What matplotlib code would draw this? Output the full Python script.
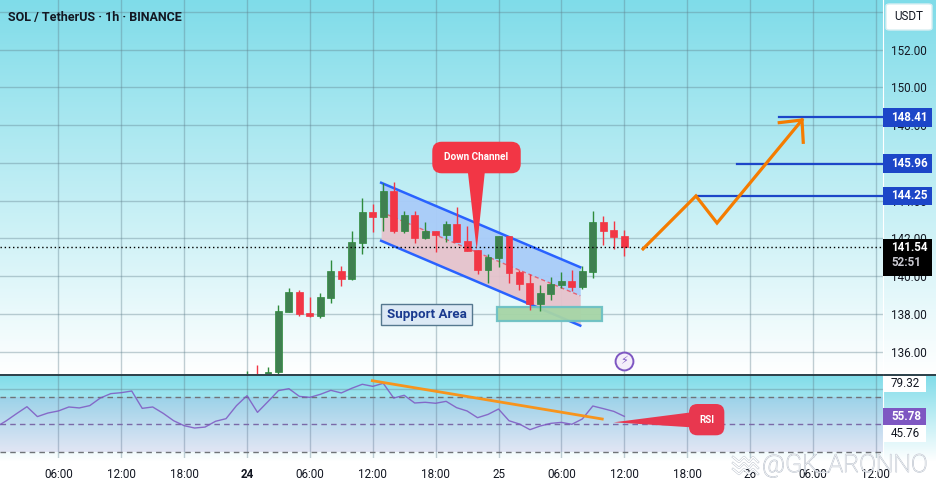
import numpy as np
import matplotlib
matplotlib.use('Agg')
import matplotlib.pyplot as plt
import matplotlib.patheffects as pe
from matplotlib.colors import LinearSegmentedColormap
from matplotlib.patches import FancyBboxPatch, Polygon, Rectangle
from matplotlib.transforms import blended_transform_factory

plt.rcParams['font.family'] = ['Roboto', 'DejaVu Sans']

# hours counted from 24th 00:00
hours = list(range(0, 37))
opens = [134.60, 134.80, 134.83, 134.92, 138.11, 139.17, 138.06, 137.90, 138.85, 140.28,
         139.86, 141.76, 143.40, 143.14, 144.51, 142.40, 143.24, 142.03, 142.40, 142.19,
         142.77, 141.87, 141.39, 140.33, 140.97, 142.13, 140.23, 139.65, 138.54, 139.06,
         139.54, 139.75, 139.44, 140.23, 142.87, 142.45, 142.13]
highs = [134.99, 135.31, 135.20, 138.48, 139.38, 139.28, 138.91, 139.12, 140.86, 140.55,
         142.40, 144.14, 143.83, 144.94, 144.99, 143.46, 143.46, 142.87, 142.40, 142.93,
         143.67, 142.66, 141.39, 141.18, 142.13, 142.13, 140.33, 140.12, 139.54, 139.96,
         140.23, 140.33, 140.55, 143.46, 143.19, 142.93, 142.45]
lows = [134.50, 134.60, 134.80, 134.83, 138.11, 137.90, 137.85, 137.79, 138.59, 139.49,
        139.81, 141.18, 142.34, 142.40, 142.29, 142.29, 141.76, 141.97, 141.29, 141.82,
        141.82, 141.34, 140.12, 139.65, 140.49, 139.65, 139.28, 138.22, 138.16, 138.75,
        139.38, 139.22, 139.33, 139.91, 141.66, 141.45, 141.08]
closes = [134.75, 134.70, 134.94, 138.16, 139.17, 138.01, 137.90, 138.91, 140.28, 139.86,
          141.82, 143.40, 143.14, 144.51, 142.40, 143.24, 142.03, 142.40, 142.19, 142.77,
          141.82, 141.34, 140.33, 141.02, 142.13, 140.18, 139.59, 138.54, 139.12, 139.59,
          139.75, 139.44, 140.28, 142.87, 142.40, 142.08, 141.54]

rsi_hours = list(range(-24, 37))
rsi_values = [47.8, 52.4, 57.7, 62.8, 55.6, 58.2, 59.7, 62.6, 61.9, 63.6, 69.1, 72.3, 73.0,
              74.2, 61.6, 62.6, 58.0, 52.6, 49.0, 47.3, 48.0, 52.2, 54.1, 63.6, 70.8, 58.7,
              66.5, 74.5, 75.9, 70.3, 69.6, 71.8, 74.7, 72.8, 76.2, 79.1, 77.6, 79.8, 69.1,
              71.1, 65.5, 66.0, 65.3, 66.7, 62.1, 59.7, 54.8, 57.2, 61.1, 52.6, 50.2, 46.1,
              48.8, 50.7, 51.4, 50.0, 53.9, 63.3, 61.4, 59.4, 55.8]

# drawn objects, in hours and price
chan_hours = [12.8, 31.8]
chan_upper = [144.95, 140.48]
chan_mid = [143.40, 138.97]
chan_lower = [141.88, 137.39]
support_hours = [23.83, 33.9]
support_prices = [137.62, 138.39]
label_hours = [12.8, 21.5]
label_prices = [137.44, 138.52]
path_hours = [37.79, 42.84, 44.85, 52.96]
path_prices = [141.45, 144.25, 142.82, 148.27]
arrow_hours = [50.79, 52.96, 53.08]
arrow_prices = [148.13, 148.27, 147.09]
target_prices = [148.41, 145.96, 144.25]
target_starts = [50.8, 46.8, 42.84]
last_price = 141.54
rsi_trend_hours = [11.96, 33.9]
rsi_trend_values = [81.7, 53.85]

price_ticks = [136, 138, 140, 142, 144, 146, 148, 150, 152, 154]
time_ticks = [-18, -12, -6, 0, 6, 12, 18, 24, 30, 36, 42, 48, 54, 60]
time_labels = ['06:00', '12:00', '18:00', '24', '06:00', '12:00', '18:00', '25',
               '06:00', '12:00', '18:00', '26', '06:00', '12:00']

W, H = 936, 487
PANE_R = 883
MAIN_B = 374
RSI_T, RSI_B = 375, 458
GRID = '#5f7f8c'
GREEN = '#3f8050'
GREEN_W = '#2e8b3c'
RED = '#f23645'
BLUE = '#2962ff'
TAG_BLUE = '#1c46c8'
ORANGE = '#f57c00'
AXIS_SIZE = 8.4

fig = plt.figure(figsize=(W / 100, H / 100), dpi=100)

# background gradients
bg = fig.add_axes([0, 0, 1, 1], zorder=0)
cmap = LinearSegmentedColormap.from_list('bg', ['#7fdce9', '#ffffff'])
grad = np.ones(H)
grad[:MAIN_B] = np.linspace(0, 1, MAIN_B)
grad[MAIN_B:RSI_B + 4] = np.linspace(0, 1, RSI_B + 4 - MAIN_B)
bg.imshow(grad[:, None], aspect='auto', cmap=cmap, vmin=0, vmax=1, extent=[0, W, H, 0])
bg.axis('off')

ax = fig.add_axes([0, 1 - MAIN_B / H, PANE_R / W, MAIN_B / H], zorder=2)
rsi = fig.add_axes([0, 1 - RSI_B / H, PANE_R / W, (RSI_B - RSI_T) / H], zorder=2)
for a in (ax, rsi):
    a.patch.set_alpha(0)
    a.set_xlim(-23.57, 60.69)
    for side in ('top', 'left', 'bottom'):
        a.spines[side].set_visible(False)
    a.spines['right'].set_color('white')
    a.set_axisbelow(True)
ax.set_ylim(134.83, 154.62)
rsi.set_ylim(25.5, 85.85)

# pane separator
fig.add_artist(plt.Line2D([0, 1], [1 - 374.5 / H] * 2, color='#20262e', lw=1.2, zorder=5))

ax.set_xticks(time_ticks)
ax.tick_params(axis='x', length=0, labelbottom=False)
ax.grid(True, color=GRID, alpha=0.38, lw=1)
ax.yaxis.tick_right()
ax.set_yticks(price_ticks)
ax.set_yticklabels([f'{p:.2f}' if p != 154 else '' for p in price_ticks])
ax.tick_params(axis='y', length=0, pad=5.8, labelsize=AXIS_SIZE, labelcolor='#131722')

rsi.set_xticks(time_ticks)
rsi.set_xticklabels(time_labels)
rsi.set_yticks([75.67])
rsi.set_yticklabels([''])
rsi.grid(True, color=GRID, alpha=0.38, lw=1)
rsi.tick_params(axis='both', length=0)
rsi.tick_params(axis='x', pad=7, labelsize=AXIS_SIZE, labelcolor='#131722')
rsi.get_xticklabels()[3].set_fontweight('bold')

# top line
fig.text(8 / W, 1 - 17 / H, 'SOL / TetherUS · 1h · BINANCE', fontsize=9, fontweight='bold',
         color='#131722', va='center', zorder=5)

# channel
ax.fill_between(chan_hours, chan_mid, chan_upper, color='#a9ccf9', lw=0, alpha=0.95, zorder=2)
ax.fill_between(chan_hours, chan_lower, chan_mid, color='#e6c3cc', lw=0, alpha=0.95, zorder=2)
ax.plot(chan_hours, chan_mid, color=RED, lw=1, ls=(0, (3, 2)), alpha=0.7, zorder=2.2)
ax.plot(chan_hours, chan_upper, color=BLUE, lw=1.8, zorder=2.3)
ax.plot(chan_hours, chan_lower, color=BLUE, lw=1.8, zorder=2.3)

# support box and its label
ax.add_patch(Rectangle((support_hours[0], support_prices[0]), support_hours[1] - support_hours[0],
                       support_prices[1] - support_prices[0], fc='#a6d5a6', ec='#6cc0c4', lw=1.6,
                       alpha=0.95, zorder=2.5))
ax.add_patch(Rectangle((label_hours[0], label_prices[0]), label_hours[1] - label_hours[0],
                       label_prices[1] - label_prices[0], fc='#dce9f5', ec='#55788f', lw=1, zorder=2.5))
ax.text(np.mean(label_hours), np.mean(label_prices), 'Support Area', ha='center', va='center',
        fontsize=9.6, fontweight='bold', color='#1a3a8f', zorder=2.6)

# candles
for t, o, h, l, c in zip(hours, opens, highs, lows, closes):
    up = c >= o
    ax.vlines(t, l, h, color=GREEN_W if up else RED, lw=1, zorder=3)
    ax.add_patch(Rectangle((t - 0.33, min(o, c)), 0.66, abs(c - o), fc=GREEN if up else RED,
                           ec=GREEN_W if up else RED, lw=0.5, zorder=3.1))

# last price
ax.axhline(last_price, color='black', lw=1, ls=(0, (1, 2)), zorder=3.2)

# targets
for start, price in zip(target_starts, target_prices):
    ax.plot([start, 60.69], [price, price], color=TAG_BLUE, lw=1.6, zorder=3.5)

# projected path
ax.plot(path_hours, path_prices, color=ORANGE, lw=2.3, solid_joinstyle='miter', zorder=4)
ax.plot(arrow_hours, arrow_prices, color=ORANGE, lw=2.3, solid_joinstyle='miter', zorder=4)

# Down Channel callout
ax.add_patch(Polygon([(21.06, 145.6), (22.71, 145.6), (21.92, 141.39)], fc=RED, ec='none', zorder=4.5))
ax.add_patch(FancyBboxPatch((17.68, 145.45), 8.44, 1.67, boxstyle='round,pad=0,rounding_size=0.9',
                            mutation_aspect=10.48 / 18.9, fc=RED, ec='none', zorder=4.5))
ax.text(21.9, 146.3, 'Down Channel', color='white', ha='center', va='center', fontsize=7.2,
        fontweight='bold', zorder=4.6)

# lightning mark
ax.scatter([36], [135.5], s=165, fc='#f4eefa', ec='#7e57c2', lw=1.4, zorder=4, clip_on=False)
ax.text(36, 135.5, '\u26a1', color='#7e57c2', ha='center', va='center', fontsize=8,
        family=['DejaVu Sans'], zorder=4.1)

# RSI pane
rsi.axhspan(30, 70, color='#7e57c2', alpha=0.13, lw=0, zorder=1)
for level, col in zip([70, 50, 30], ['#6f7378', '#7a6aa8', '#6f7378']):
    rsi.axhline(level, color=col, lw=1, ls=(0, (4, 3)), zorder=1.5)
rsi.plot(rsi_hours, rsi_values, color='#7e57c2', lw=1, alpha=0.85, zorder=3)
rsi.plot(rsi_trend_hours, rsi_trend_values, color='#f7941d', lw=2, zorder=3.5, clip_on=False)
rsi.add_patch(Polygon([(42.4, 58.7), (42.4, 47.8), (35.0, 51.45)], fc='#e8374f', ec='none', zorder=4))
rsi.add_patch(FancyBboxPatch((42.18, 42.0), 3.37, 22.76, boxstyle='round,pad=0,rounding_size=0.8',
                             mutation_aspect=10.48 / 1.375, fc='#e8374f', ec='none', zorder=4))
rsi.text(43.85, 53.2, 'RSI', color='white', ha='center', va='center', fontsize=7, fontweight='bold',
         zorder=4.1)


def tag(a, center, half, text, fc, color='white', width=49, weight='bold'):
    # price tag in the axis column, x in axes fraction and y in data
    tr = blended_transform_factory(a.transAxes, a.transData)
    a.add_patch(Rectangle((1, center - half), width / PANE_R, 2 * half, transform=tr, fc=fc, ec='none',
                          clip_on=False, zorder=6))
    a.text(1 + 8 / PANE_R, center, text, transform=tr, color=color, va='center', ha='left',
           fontsize=AXIS_SIZE, fontweight=weight, clip_on=False, zorder=7)


price_half = 9.2 / 18.9
for price in target_prices:
    tag(ax, price, price_half, f'{price:.2f}', TAG_BLUE)

# black last price tag with countdown
tr_last = blended_transform_factory(ax.transAxes, ax.transData)
ax.add_patch(Rectangle((1, 139.99), 49 / PANE_R, 1.98, transform=tr_last, fc='black', ec='none',
                       clip_on=False, zorder=6))
ax.text(1 + 8 / PANE_R, last_price, f'{last_price:.2f}', transform=tr_last, color='white', va='center',
        fontsize=AXIS_SIZE, fontweight='bold', clip_on=False, zorder=7)
ax.text(1 + 8 / PANE_R, 140.73, '52:51', transform=tr_last, color='#c8c8d0', va='center',
        fontsize=AXIS_SIZE, fontweight='bold', clip_on=False, zorder=7)

rsi_half = 8.3 / 1.375
tag(rsi, 79.32, rsi_half, '79.32', 'white', color='#131722', width=43, weight='normal')
tag(rsi, 43.5, rsi_half, '45.76', 'white', color='#131722', width=43, weight='normal')
tag(rsi, 55.78, rsi_half, '55.78', '#7e57c2', width=43)

# USDT box
fig.add_artist(FancyBboxPatch((886 / W, 1 - 30 / H), 46 / W, 26 / H, boxstyle='round,pad=0,rounding_size=0.004',
                              transform=fig.transFigure, fc='white', ec='#d8eef2', lw=1, zorder=5))
fig.text(909 / W, 1 - 17 / H, 'USDT', ha='center', va='center', fontsize=AXIS_SIZE, color='#131722', zorder=6)

# watermark
top = fig.add_axes([0, 0, 1, 1], zorder=10)
top.axis('off')
top.set_xlim(0, W)
top.set_ylim(H, 0)
halo = [pe.withStroke(linewidth=0.7, foreground='#b4bcc8')]
top.text(762, 465, '@GK_ARONNO', color='#ffffff', fontsize=17.9, fontweight='light', alpha=0.9,
         va='center', ha='left', path_effects=halo)
for dy in (0, 6, 12):
    top.plot([733, 739, 744, 749, 753, 758], np.array([459, 464, 459, 464, 459, 464]) + dy - 2,
             color='white', lw=1, path_effects=[pe.withStroke(linewidth=1.6, foreground='#b4bcc8')])

fig.savefig('out.png', dpi=100)
